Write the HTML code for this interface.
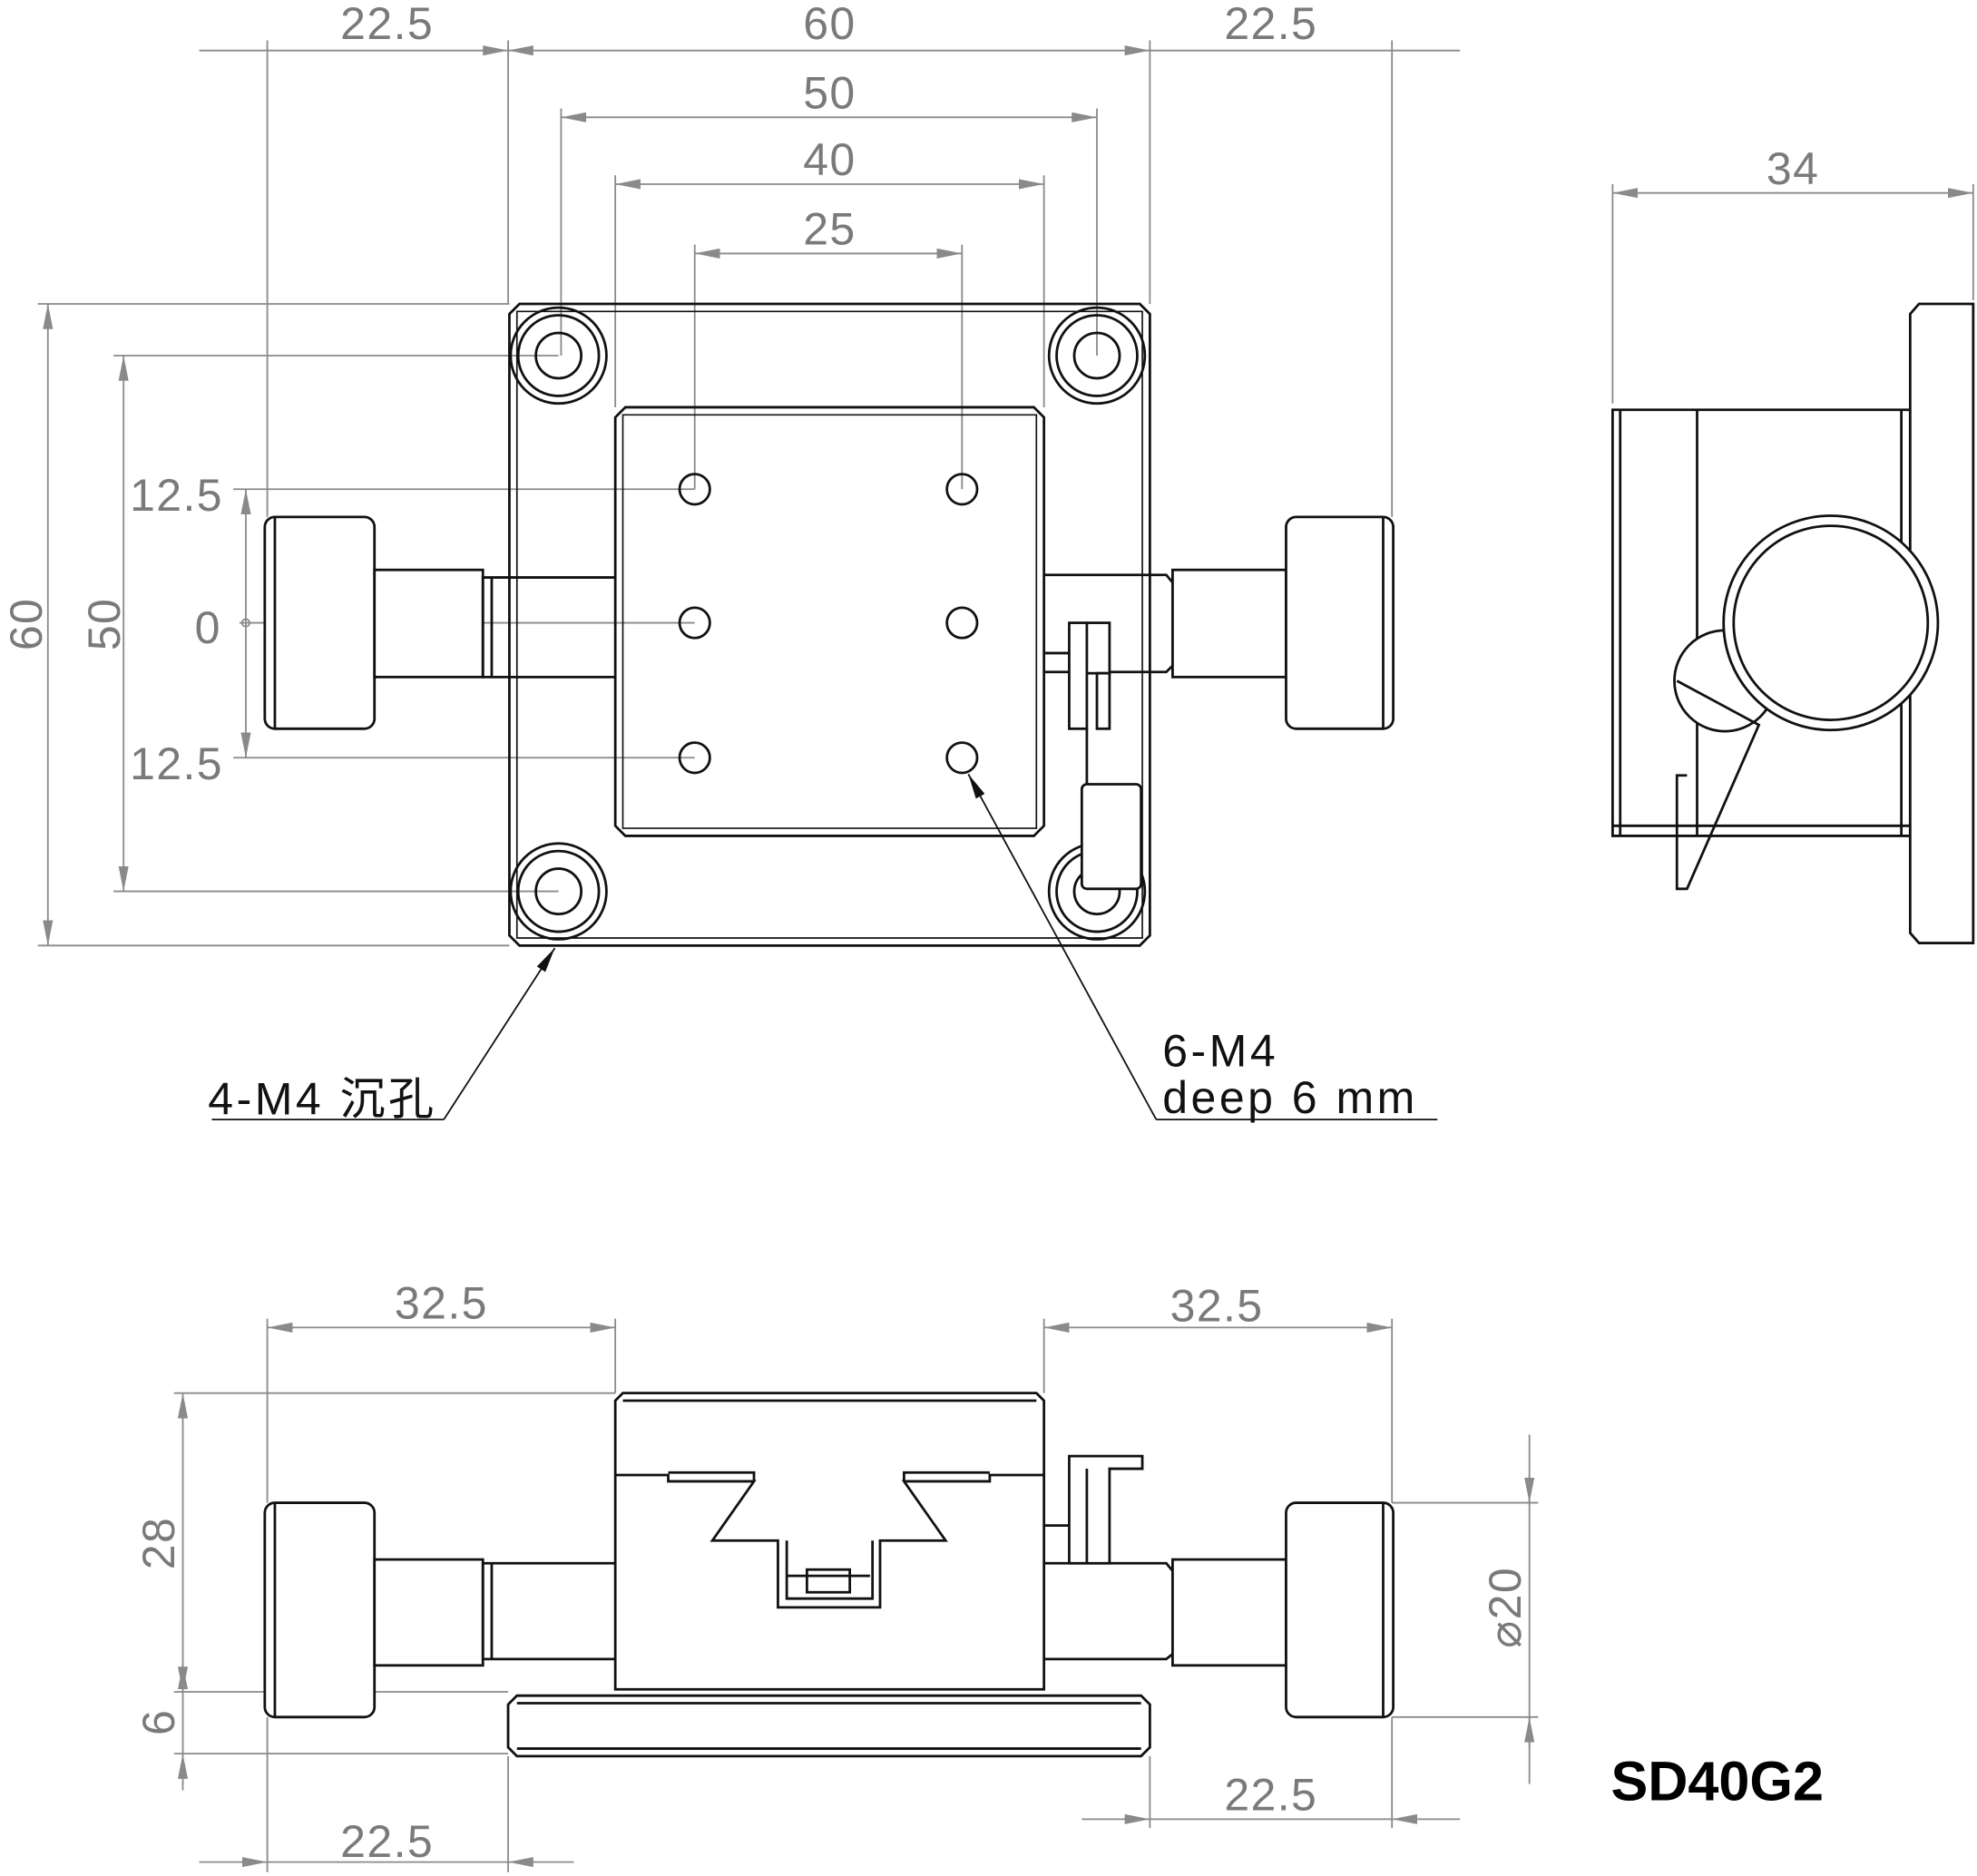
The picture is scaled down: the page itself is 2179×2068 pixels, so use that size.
<!DOCTYPE html>
<html><head><meta charset="utf-8"><style>
html,body{margin:0;padding:0;background:#fff}
svg{display:block}
.d{stroke:#8a8a8a;stroke-width:1.3;fill:none}
.o{stroke:#111;stroke-width:2;fill:none}
.t{font-family:"Liberation Sans","Noto Sans CJK SC",sans-serif;font-size:36px;letter-spacing:1px;fill:#7a7a7a;text-anchor:middle}
.k{font-family:"Liberation Sans","Noto Sans CJK SC",sans-serif;font-size:36px;letter-spacing:2.5px;fill:#111}
</style></head><body>
<svg width="2179" height="2068" viewBox="0 0 1568 1488" xmlns="http://www.w3.org/2000/svg">
<defs>
<marker id="a" viewBox="0 0 20 8" refX="20" refY="4" markerWidth="20" markerHeight="8" orient="auto-start-reverse" markerUnits="userSpaceOnUse"><path d="M0,0 L20,4 L0,8 z" fill="#8a8a8a"/></marker>
<marker id="b" viewBox="0 0 20 8" refX="20" refY="4" markerWidth="20" markerHeight="8" orient="auto" markerUnits="userSpaceOnUse"><path d="M0,0 L20,4 L0,8 z" fill="#111"/></marker>
</defs>
<g class="d">
<line x1="212" y1="32" x2="212" y2="410"/><line x1="403" y1="32" x2="403" y2="241"/>
<line x1="912" y1="32" x2="912" y2="241"/><line x1="1104" y1="32" x2="1104" y2="410"/>
<line x1="158" y1="40" x2="212" y2="40"/><line x1="1104" y1="40" x2="1158" y2="40"/>
<line x1="212" y1="40" x2="403" y2="40" marker-end="url(#a)"/>
<line x1="403" y1="40" x2="912" y2="40" marker-start="url(#a)" marker-end="url(#a)"/>
<line x1="912" y1="40" x2="1104" y2="40"/>
<line x1="445" y1="86" x2="445" y2="282"/><line x1="870" y1="86" x2="870" y2="282"/>
<line x1="445" y1="93" x2="870" y2="93" marker-start="url(#a)" marker-end="url(#a)"/>
<line x1="488" y1="139" x2="488" y2="323"/><line x1="828" y1="139" x2="828" y2="323"/>
<line x1="488" y1="146" x2="828" y2="146" marker-start="url(#a)" marker-end="url(#a)"/>
<line x1="551" y1="194" x2="551" y2="388"/><line x1="763" y1="194" x2="763" y2="388"/>
<line x1="551" y1="201" x2="763" y2="201" marker-start="url(#a)" marker-end="url(#a)"/>
<line x1="30" y1="241" x2="404" y2="241"/><line x1="30" y1="750" x2="404" y2="750"/>
<line x1="38" y1="241" x2="38" y2="750" marker-start="url(#a)" marker-end="url(#a)"/>
<line x1="90" y1="282" x2="443" y2="282"/><line x1="90" y1="707" x2="443" y2="707"/>
<line x1="98" y1="282" x2="98" y2="707" marker-start="url(#a)" marker-end="url(#a)"/>
<line x1="185" y1="388" x2="551" y2="388"/><line x1="185" y1="601" x2="551" y2="601"/>
<line x1="190" y1="494" x2="551" y2="494"/>
<line x1="195" y1="410" x2="195" y2="388" marker-end="url(#a)"/>
<line x1="195" y1="578" x2="195" y2="601" marker-end="url(#a)"/>
<line x1="195" y1="410" x2="195" y2="578"/>
<circle cx="195" cy="494" r="3"/>
</g>
<text class="t" x="307" y="31">22.5</text><text class="t" x="658" y="31">60</text><text class="t" x="1008" y="31">22.5</text>
<text class="t" x="658" y="86">50</text><text class="t" x="658" y="139">40</text><text class="t" x="658" y="194">25</text>
<text class="t" x="140" y="405">12.5</text><text class="t" x="140" y="618">12.5</text><text class="t" x="165" y="510">0</text>
<text class="t" transform="translate(33,495) rotate(-90)">60</text>
<text class="t" transform="translate(95,495) rotate(-90)">50</text>
<g class="o">
<path d="M412,241 L904,241 L912,249 L912,742 L904,750 L412,750 L404,742 L404,249 Z"/>
<path d="M410,247 L906,247 L906,744 L410,744 Z" stroke-width="1.2"/>
<circle cx="443" cy="282" r="38"/><circle cx="443" cy="282" r="32"/><circle cx="443" cy="282" r="18"/>
<circle cx="870" cy="282" r="38"/><circle cx="870" cy="282" r="32"/><circle cx="870" cy="282" r="18"/>
<circle cx="443" cy="707" r="38"/><circle cx="443" cy="707" r="32"/><circle cx="443" cy="707" r="18"/>
<circle cx="870" cy="707" r="38"/><circle cx="870" cy="707" r="32"/><circle cx="870" cy="707" r="18"/>
<path d="M496,323 L820,323 L828,331 L828,655 L820,663 L496,663 L488,655 L488,331 Z"/>
<path d="M494,329 L822,329 L822,657 L494,657 Z" stroke-width="1.2"/>
<circle cx="551" cy="388" r="12"/><circle cx="763" cy="388" r="12"/>
<circle cx="551" cy="494" r="12"/><circle cx="763" cy="494" r="12"/>
<circle cx="551" cy="601" r="12"/><circle cx="763" cy="601" r="12"/>
<rect x="210" y="410" width="87" height="168" rx="8" fill="#fff"/>
<line x1="218" y1="410" x2="218" y2="578"/>
<rect x="297" y="452" width="86" height="85" fill="#fff"/>
<path d="M383,458 L390,458 L390,537 L383,537 Z M390,458 L488,458 M390,537 L488,537"/>
<path d="M828,456 L925,456 L930,462 L930,528 L925,533 L828,533"/>
<rect x="930" y="452" width="90" height="85" fill="#fff"/>
<rect x="1020" y="410" width="85" height="168" rx="8" fill="#fff"/>
<line x1="1097" y1="410" x2="1097" y2="578"/>
<rect x="848" y="494" width="14" height="84" fill="#fff"/>
<rect x="862" y="494" width="18" height="40" fill="#fff"/>
<rect x="870" y="534" width="10" height="44" fill="#fff"/>
<line x1="828" y1="518" x2="848" y2="518"/>
<line x1="862" y1="578" x2="862" y2="622"/>
<rect x="858" y="622" width="47" height="83" rx="4" fill="#fff"/>
</g>
<g stroke="#111" stroke-width="1.3" fill="none">
<line x1="352" y1="888" x2="440" y2="752" marker-end="url(#b)"/>
<line x1="168" y1="888" x2="352" y2="888"/>
<line x1="917" y1="888" x2="768" y2="614" marker-end="url(#b)"/>
<line x1="917" y1="888" x2="1140" y2="888"/>
</g>
<text class="k" x="165" y="884">4-M4 沉孔</text>
<text class="k" x="922" y="846">6-M4</text>
<text class="k" x="922" y="883">deep 6 mm</text>
<g class="d">
<line x1="1279" y1="146" x2="1279" y2="320"/><line x1="1565" y1="146" x2="1565" y2="238"/>
<line x1="1279" y1="153" x2="1565" y2="153" marker-start="url(#a)" marker-end="url(#a)"/>
</g>
<text class="t" x="1422" y="146">34</text>
<g class="o">
<path d="M1279,325 L1515,325 L1515,663 L1279,663 Z"/>
<line x1="1285" y1="325" x2="1285" y2="663"/><line x1="1279" y1="655" x2="1515" y2="655"/>
<line x1="1346" y1="325" x2="1346" y2="663"/><line x1="1508" y1="325" x2="1508" y2="663"/>
<path d="M1522,241 L1565,241 L1565,748 L1522,748 L1515,740 L1515,249 Z" fill="#fff"/>
<circle cx="1368" cy="540" r="40" fill="#fff"/>
<path d="M1330,540 L1395,575 L1338,705 L1330,705 L1330,615 L1338,615"/>
<circle cx="1452" cy="494" r="85" fill="#fff"/><circle cx="1452" cy="494" r="77"/>
</g>
<g class="d">
<line x1="212" y1="1046" x2="212" y2="1192"/><line x1="488" y1="1046" x2="488" y2="1105"/>
<line x1="828" y1="1046" x2="828" y2="1105"/><line x1="1104" y1="1046" x2="1104" y2="1192"/>
<line x1="212" y1="1053" x2="488" y2="1053" marker-start="url(#a)" marker-end="url(#a)"/>
<line x1="828" y1="1053" x2="1104" y2="1053" marker-start="url(#a)" marker-end="url(#a)"/>
<line x1="138" y1="1105" x2="488" y2="1105"/><line x1="138" y1="1342" x2="403" y2="1342"/>
<line x1="138" y1="1391" x2="403" y2="1391"/>
<line x1="145" y1="1105" x2="145" y2="1342" marker-start="url(#a)" marker-end="url(#a)"/>
<line x1="145" y1="1342" x2="145" y2="1320" marker-end="url(#a)"/>
<line x1="145" y1="1391" x2="145" y2="1420" marker-start="url(#a)"/>
<line x1="145" y1="1342" x2="145" y2="1391"/>
<line x1="1104" y1="1192" x2="1220" y2="1192"/><line x1="1104" y1="1362" x2="1220" y2="1362"/>
<line x1="1213" y1="1138" x2="1213" y2="1192" /><line x1="1213" y1="1170" x2="1213" y2="1192" marker-end="url(#a)"/>
<line x1="1213" y1="1192" x2="1213" y2="1362"/>
<line x1="1213" y1="1385" x2="1213" y2="1362" marker-end="url(#a)"/><line x1="1213" y1="1362" x2="1213" y2="1415"/>
<line x1="212" y1="1362" x2="212" y2="1485"/><line x1="403" y1="1393" x2="403" y2="1485"/>
<line x1="158" y1="1477" x2="212" y2="1477" marker-end="url(#a)"/>
<line x1="212" y1="1477" x2="403" y2="1477"/>
<line x1="455" y1="1477" x2="403" y2="1477" marker-end="url(#a)"/>
<line x1="912" y1="1393" x2="912" y2="1450"/><line x1="1104" y1="1362" x2="1104" y2="1450"/>
<line x1="858" y1="1443" x2="912" y2="1443" marker-end="url(#a)"/>
<line x1="912" y1="1443" x2="1104" y2="1443"/>
<line x1="1158" y1="1443" x2="1104" y2="1443" marker-end="url(#a)"/>
</g>
<text class="t" x="350" y="1046">32.5</text><text class="t" x="965" y="1048">32.5</text>
<text class="t" transform="translate(138,1224) rotate(-90)">28</text>
<text class="t" transform="translate(138,1366) rotate(-90)">6</text>
<text class="t" transform="translate(1206,1275) rotate(-90)">⌀20</text>
<text class="t" x="307" y="1473">22.5</text><text class="t" x="1008" y="1436">22.5</text>
<text x="1362" y="1428" font-family="Liberation Sans,sans-serif" font-size="44" font-weight="bold" fill="#000" text-anchor="middle">SD40G2</text>
<g class="o">
<path d="M494,1105 L822,1105 L828,1111 L828,1340 L488,1340 L488,1111 Z"/>
<line x1="494" y1="1111" x2="822" y2="1111"/>
<path d="M488,1170 L530,1170 L530,1175 L598,1175 L565,1222 L617,1222 L617,1275 L698,1275 L698,1222 L750,1222 L717,1175 L785,1175 L785,1170 L828,1170"/>
<path d="M598,1175 L598,1168 L530,1168 M717,1175 L717,1168 L785,1168"/>
<path d="M624,1222 L624,1268 L692,1268 L692,1222"/>
<rect x="640" y="1245" width="34" height="18"/>
<path d="M624,1250 L690,1250"/>
<path d="M410,1345 L905,1345 L912,1352 L912,1386 L905,1393 L410,1393 L403,1386 L403,1352 Z" fill="#fff"/>
<line x1="410" y1="1351" x2="905" y2="1351"/><line x1="410" y1="1387" x2="905" y2="1387"/>
<rect x="210" y="1192" width="87" height="170" rx="8" fill="#fff"/>
<line x1="218" y1="1192" x2="218" y2="1362"/>
<rect x="297" y="1237" width="86" height="84" fill="#fff"/>
<path d="M383,1240 L390,1240 L390,1316 L383,1316 Z M390,1240 L488,1240 M390,1316 L488,1316"/>
<path d="M828,1240 L925,1240 L930,1246 L930,1312 L925,1316 L828,1316"/>
<rect x="930" y="1237" width="90" height="84" fill="#fff"/>
<rect x="1020" y="1192" width="85" height="170" rx="8" fill="#fff"/>
<line x1="1097" y1="1192" x2="1097" y2="1362"/>
<path d="M848,1155 L906,1155 L906,1165 L880,1165 L880,1240 L848,1240 Z" fill="#fff"/>
<line x1="862" y1="1165" x2="862" y2="1240"/><line x1="828" y1="1210" x2="848" y2="1210"/>
</g>
</svg>
</body></html>
